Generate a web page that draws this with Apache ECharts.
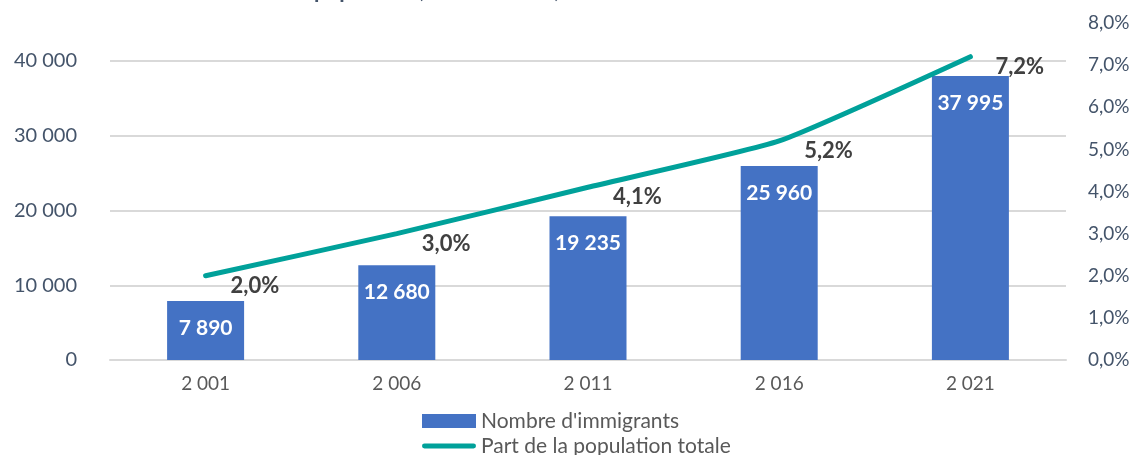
<!DOCTYPE html>
<html>
<head>
<meta charset="utf-8">
<script src="https://cdn.jsdelivr.net/npm/echarts@6/dist/echarts.min.js"></script>
<style>
  html, body { margin: 0; padding: 0; background: #fff; }
  #chart { width: 1138px; height: 455px; }
</style>
</head>
<body>
<div id="chart"></div>
<script>
// donnees
var annees = [2001, 2006, 2011, 2016, 2021];
var immigrants = [7890, 12680, 19235, 25960, 37995];
var partPopulation = [2.0, 3.0, 4.1, 5.2, 7.2];
var ticksGauche = [0, 10000, 20000, 30000, 40000];
var ticksDroite = [0, 1, 2, 3, 4, 5, 6, 7, 8];

var police = 'Lato, "Open Sans", sans-serif';

// 7890 -> "7 890"
function espaces(v) {
  return String(v).replace(/\B(?=(\d{3})+(?!\d))/g, ' ');
}
function pct(v) {
  return v.toFixed(1).replace('.', ',') + '%';
}

var chart = echarts.init(document.getElementById('chart'));

chart.setOption({
  animation: false,
  textStyle: { fontFamily: police },
  // titre coupe en haut de l'image : seules les jambes des lettres depassent
  graphic: [{
    type: 'text',
    left: 314,
    top: -20,
    style: {
      text: "population, 2001 à 2021, Laval",
      font: 'bold 22px ' + police,
      fill: '#44546a'
    }
  }],
  legend: {
    orient: 'vertical',
    left: 417,
    top: 405,
    height: 120,
    itemGap: 3,
    itemWidth: 54,
    itemHeight: 14,
    textStyle: { fontSize: 21, lineHeight: 22, color: '#595959', fontFamily: police },
    data: [
      { name: "Nombre d'immigrants", icon: 'rect' },
      { name: 'Part de la population totale', icon: 'path://M2,0 H52 A2,2 0 0 1 52,5 H2 A2,2 0 0 1 2,0 Z' }
    ]
  },
  grid: [
    { left: 110, right: 72, top: 61, bottom: 95 },
    { left: 110, right: 72, top: 23, bottom: 95 }
  ],
  xAxis: [
    {
      type: 'category',
      gridIndex: 0,
      data: annees,
      axisLine: { lineStyle: { color: '#d9d9d9', width: 2 } },
      axisTick: { show: false },
      axisLabel: {
        margin: 14,
        fontSize: 19,
        color: '#595959',
        formatter: function (v) { return espaces(v); }
      }
    },
    {
      type: 'category',
      gridIndex: 1,
      data: annees,
      axisLine: { show: false },
      axisTick: { show: false },
      axisLabel: { show: false },
      splitLine: { show: false }
    }
  ],
  yAxis: [
    {
      type: 'value',
      gridIndex: 0,
      min: ticksGauche[0],
      max: ticksGauche[ticksGauche.length - 1],
      interval: ticksGauche[1] - ticksGauche[0],
      axisLine: { show: false },
      axisTick: { show: false },
      axisLabel: {
        margin: 33,
        fontSize: 20,
        color: '#44546a',
        formatter: function (v) { return espaces(v); }
      },
      splitLine: { lineStyle: { color: '#d9d9d9', width: 2 } }
    },
    {
      type: 'value',
      gridIndex: 1,
      position: 'right',
      min: ticksDroite[0],
      max: ticksDroite[ticksDroite.length - 1],
      interval: ticksDroite[1] - ticksDroite[0],
      axisLine: { show: false },
      axisTick: { show: false },
      axisLabel: {
        margin: 22,
        fontSize: 19,
        color: '#44546a',
        formatter: function (v) { return pct(v); }
      },
      splitLine: { show: false }
    }
  ],
  series: [
    {
      name: "Nombre d'immigrants",
      type: 'bar',
      xAxisIndex: 0,
      yAxisIndex: 0,
      barWidth: 77,
      itemStyle: { color: '#4472c4' },
      label: {
        show: true,
        position: 'insideTop',
        distance: 17,
        color: '#ffffff',
        fontWeight: 'bold',
        fontSize: 21,
        formatter: function (p) { return espaces(p.value); }
      },
      data: immigrants
    },
    {
      name: 'Part de la population totale',
      type: 'line',
      xAxisIndex: 1,
      yAxisIndex: 1,
      z: 5,
      smooth: 0.15,
      symbol: 'circle',
      symbolSize: 2,
      showSymbol: true,
      lineStyle: { color: '#00a19a', width: 5, cap: 'round' },
      itemStyle: { color: '#00a19a' },
      label: {
        show: true,
        position: 'right',
        distance: 24,
        offset: [0, 10],
        color: '#404040',
        fontWeight: 'bold',
        fontSize: 22,
        formatter: function (p) { return pct(p.value); }
      },
      data: partPopulation
    }
  ]
});
</script>
</body>
</html>
